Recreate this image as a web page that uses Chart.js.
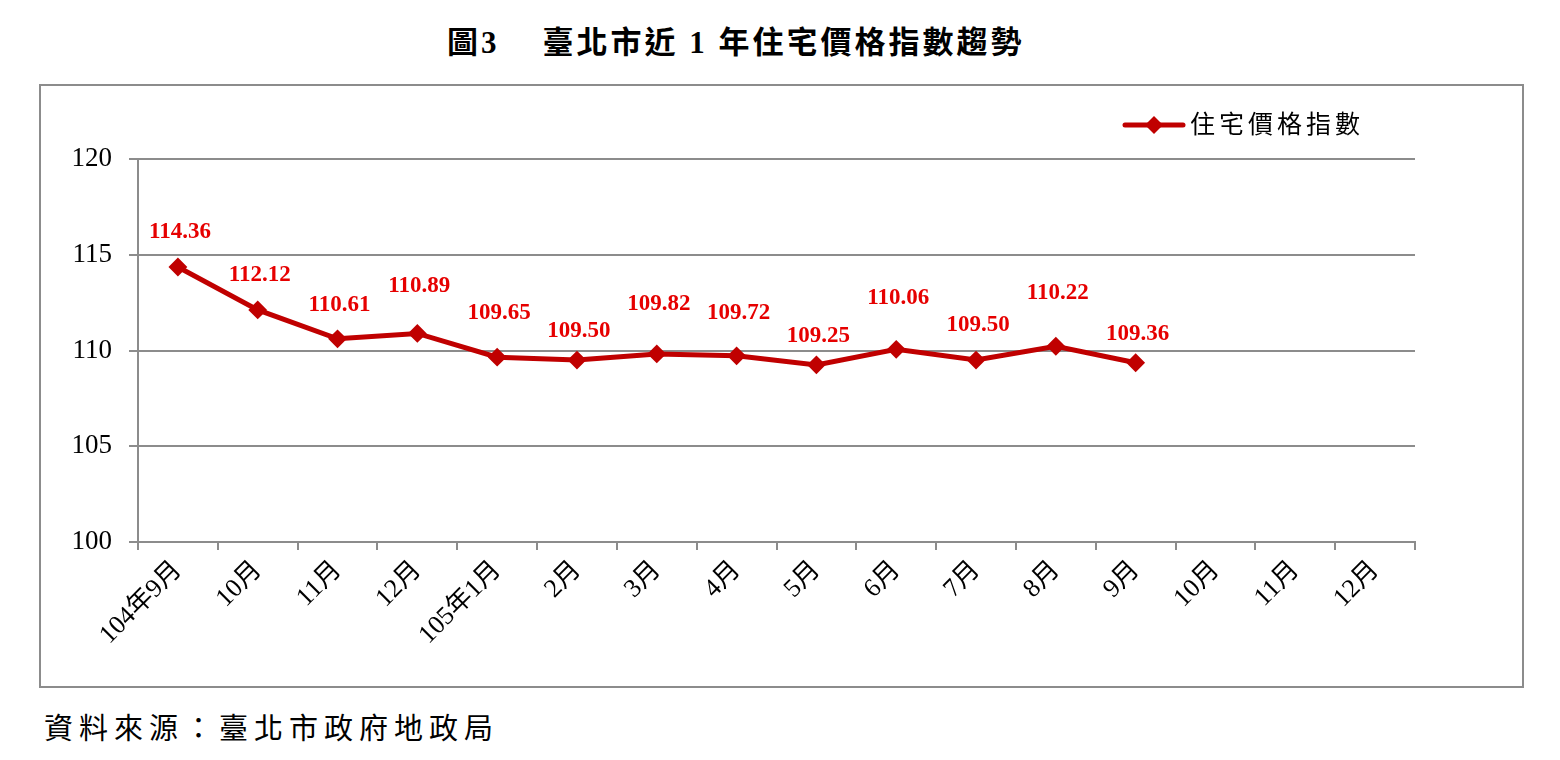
<!DOCTYPE html>
<html>
<head>
<meta charset="utf-8">
<script src="https://cdn.jsdelivr.net/npm/chart.js@4"></script>
<style>
  body { margin: 0; width: 1560px; height: 760px; background: #fff; position: relative; overflow: hidden; }
  .title { position: absolute; left: 447px; top: 17px; font: bold 31px "Liberation Serif", "Noto Sans CJK TC", serif; letter-spacing: 3px; white-space: pre; color: #000; }
  .box { position: absolute; left: 39px; top: 84px; width: 1481px; height: 600px; border: 2px solid #8c8c8c; }
  .box canvas { position: absolute; left: 0; top: 0; }
  .source { position: absolute; left: 44px; top: 705px; font: 29px "Liberation Serif", "Noto Sans CJK TC", serif; letter-spacing: 6px; color: #000; }
</style>
</head>
<body>
<div class="title">圖3    臺北市近 1 年住宅價格指數趨勢</div>
<div class="box"><canvas id="chart" width="1481" height="600"></canvas></div>
<div class="source">資料來源：臺北市政府地政局</div>
<script>
const months = ['104年9月', '10月', '11月', '12月', '105年1月', '2月', '3月', '4月',
  '5月', '6月', '7月', '8月', '9月', '10月', '11月', '12月'];
const priceIndex = [114.36, 112.12, 110.61, 110.89, 109.65, 109.50, 109.82, 109.72,
  109.25, 110.06, 109.50, 110.22, 109.36];
const yTicks = [100, 105, 110, 115, 120];
const seriesName = '住宅價格指數';

// how far above each point its value label sits (px)
const labelLift = [35, 35, 34, 47, 44, 29, 50, 43, 29, 51, 35, 53, 29];

const LINE_RED = '#c00000';
const LABEL_RED = '#e60000';
const FONT = '"Liberation Serif", "Noto Sans CJK TC", serif';

const valueLabels = {
  id: 'valueLabels',
  afterDatasetsDraw(chart) {
    const ctx = chart.ctx;
    const meta = chart.getDatasetMeta(0);
    ctx.save();
    ctx.font = 'bold 23px ' + FONT;
    ctx.fillStyle = LABEL_RED;
    ctx.textAlign = 'center';
    ctx.textBaseline = 'middle';
    meta.data.forEach((pt, i) => {
      ctx.fillText(priceIndex[i].toFixed(2), pt.x + 2, pt.y - labelLift[i]);
    });
    ctx.restore();
  }
};

const lineLegend = {
  id: 'lineLegend',
  afterDraw(chart) {
    const ctx = chart.ctx;
    const area = chart.chartArea;
    const ds = chart.data.datasets[0];
    const y = area.top - 34;
    const x0 = area.right - 290;
    ctx.save();
    ctx.strokeStyle = ds.borderColor;
    ctx.lineWidth = 5;
    ctx.lineCap = 'round';
    ctx.beginPath();
    ctx.moveTo(x0, y);
    ctx.lineTo(x0 + 58, y);
    ctx.stroke();
    ctx.fillStyle = ds.pointBackgroundColor;
    ctx.beginPath();
    ctx.moveTo(x0 + 29 - 9, y);
    ctx.lineTo(x0 + 29, y - 9);
    ctx.lineTo(x0 + 29 + 9, y);
    ctx.lineTo(x0 + 29, y + 9);
    ctx.closePath();
    ctx.fill();
    ctx.font = '25px ' + FONT;
    ctx.letterSpacing = '4px';
    ctx.fillStyle = '#000';
    ctx.textBaseline = 'middle';
    ctx.fillText(ds.label, x0 + 65, y + 1);
    ctx.restore();
  }
};

new Chart(document.getElementById('chart'), {
  type: 'line',
  data: {
    labels: months,
    datasets: [{
      label: seriesName,
      data: priceIndex,
      borderColor: LINE_RED,
      backgroundColor: LINE_RED,
      borderWidth: 5,
      tension: 0,
      pointStyle: 'rectRot',
      pointRadius: 8,
      pointBorderWidth: 2,
      pointBackgroundColor: LINE_RED,
      pointBorderColor: LINE_RED,
      fill: false
    }]
  },
  options: {
    responsive: false,
    animation: false,
    events: [],
    layout: { padding: { left: 0, right: 107, top: 73, bottom: 0 } },
    plugins: {
      legend: { display: false },
      tooltip: { enabled: false }
    },
    scales: {
      x: {
        offset: true,
        grid: {
          offset: true,
          drawOnChartArea: false,
          drawTicks: true,
          tickLength: 8,
          color: '#8c8c8c',
          lineWidth: 2
        },
        border: { color: '#8c8c8c', width: 2 },
        ticks: {
          autoSkip: false,
          maxRotation: 45,
          minRotation: 45,
          padding: 5,
          color: '#000',
          font: { family: FONT, size: 26 }
        },
        afterFit(scale) { scale.height = 144; }
      },
      y: {
        min: 100,
        max: 120,
        afterBuildTicks(scale) { scale.ticks = yTicks.map(v => ({ value: v })); },
        grid: {
          color: '#8c8c8c',
          lineWidth: 2,
          tickLength: 9
        },
        border: { color: '#8c8c8c', width: 2 },
        ticks: {
          padding: 17,
          color: '#000',
          font: { family: FONT, size: 27 }
        },
        afterFit(scale) { scale.width = 97; }
      }
    }
  },
  plugins: [valueLabels, lineLegend]
});
</script>
</body>
</html>
